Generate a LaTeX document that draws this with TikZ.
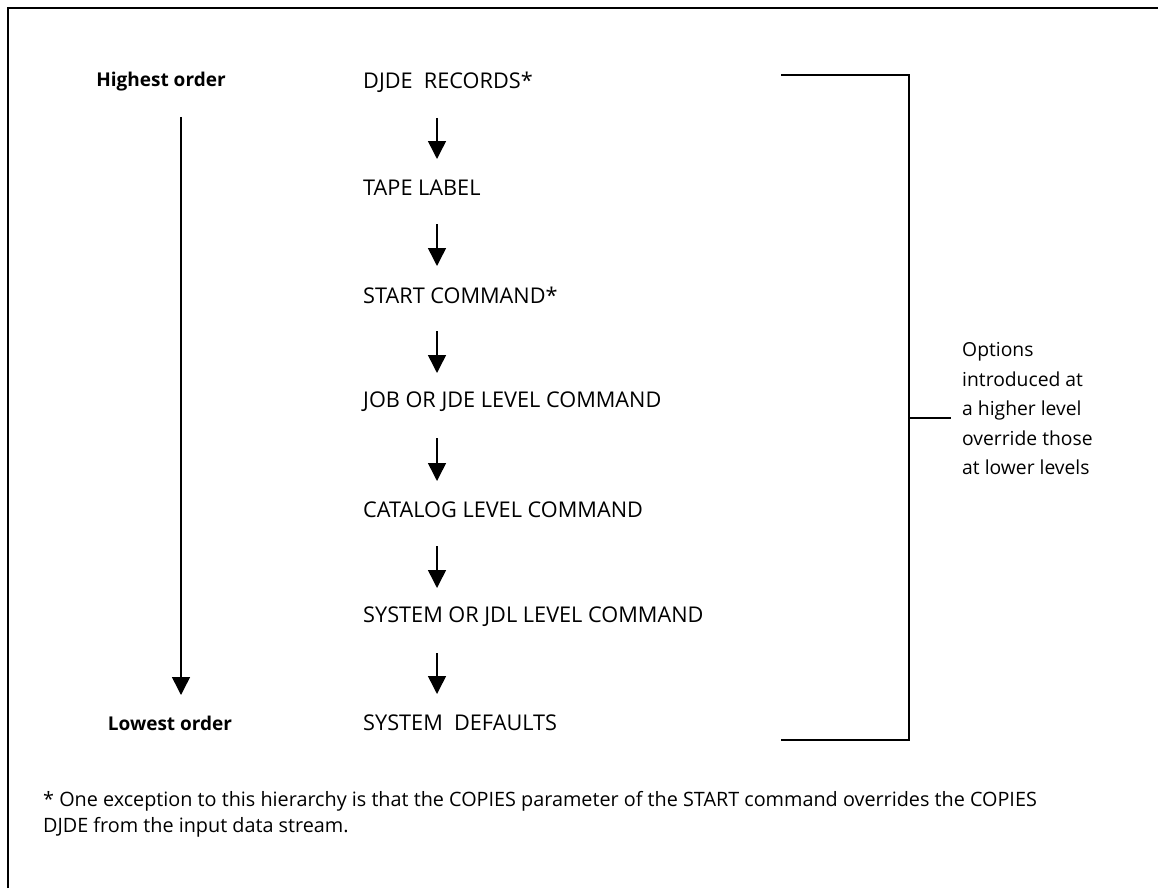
\documentclass[tikz,border=0pt]{standalone}
\usepackage{fontspec}
\setmainfont{Open Sans}
\usetikzlibrary{arrows.meta}

\begin{document}
\begin{tikzpicture}[x=1pt,y=-1pt,
    level/.style={anchor=west,inner sep=0pt,font=\fontsize{21.7}{25}\selectfont},
    order/.style={inner sep=0pt,font=\fontsize{19}{23}\selectfont\bfseries},
    flow/.style={line width=1.5pt,-{Triangle[width=18pt,length=18pt]}}]
    \useasboundingbox (0,0) rectangle (1158,888);

    % Disegna la cornice (solo lato sinistro e superiore)
    \draw[line width=2pt] (8,888) -- (8,8) -- (1158,8);

    % Disegna i livelli della gerarchia
    \node[level] (djde) at (363,82) {DJDE\ \ RECORDS*};
    \node[level] (tape) at (363,188) {TAPE LABEL};
    \node[level] (start) at (363,295) {START COMMAND*};
    \node[level] (job) at (363,402) {JOB OR JDE LEVEL COMMAND};
    \node[level] (catalog) at (363,510) {CATALOG LEVEL COMMAND};
    \node[level] (jdl) at (363,617) {SYSTEM OR JDL LEVEL COMMAND};
    \node[level] (defaults) at (363,723) {SYSTEM\ \ DEFAULTS};

    % Frecce tra un livello e il successivo
    \foreach \a/\b in {djde/tape,tape/start,start/job,job/catalog,catalog/jdl,jdl/defaults}
        \draw[flow] ([shift={(74,36)}]\a.west) -- ([shift={(74,-29)}]\b.west);

    % Ordine piu alto e piu basso, con la freccia lunga
    \node[order] (high) at (161,82) {Highest order};
    \node[order] (low) at (170,723) {Lowest order};
    \draw[flow] ([shift={(20,35)}]high.center) -- ([shift={(11,-28)}]low.center);

    % Disegna la parentesi a destra
    \coordinate (btop) at (781,75);
    \coordinate (bbot) at (781,740);
    \coordinate (bmid) at (909,418);
    \coordinate (tick) at (951,418);
    \draw[line width=1.5pt] (btop) -| (909,740) -- (bbot);
    \draw[line width=1.5pt] (bmid) -- (tick);

    % Nota accanto alla parentesi
    \node[anchor=west,inner sep=0pt,align=left,font=\fontsize{19.3}{29.5}\selectfont]
        (note) at (962,409) {Options\\introduced at\\a higher level\\override those\\at lower levels};

    % Nota a pie di pagina
    \node[anchor=west,inner sep=0pt,align=left,font=\fontsize{19.8}{26}\selectfont]
        (foot) at (43,814) {* One exception to this hierarchy is that the COPIES parameter of the START command overrides the COPIES\\DJDE from the input data stream.};
\end{tikzpicture}
\end{document}
